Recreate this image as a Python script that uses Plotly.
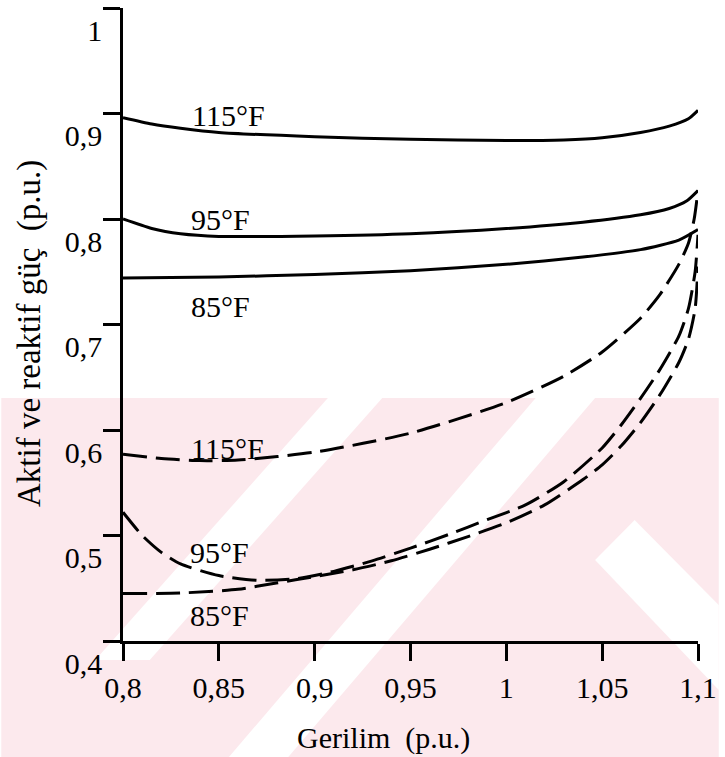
import plotly.graph_objects as go

# ---------------- data ----------------
# Solid curves
x_s115 = [0.80, 0.815, 0.83, 0.85, 0.90, 0.95, 1.00, 1.03, 1.05, 1.07, 1.085, 1.095, 1.10]
y_s115 = [0.896, 0.890, 0.886, 0.882, 0.878, 0.8755, 0.8745, 0.875, 0.877, 0.882, 0.888, 0.895, 0.903]

x_s95 = [0.80, 0.815, 0.83, 0.85, 0.90, 0.95, 1.00, 1.04, 1.07, 1.085, 1.094, 1.10]
y_s95 = [0.800, 0.791, 0.786, 0.7835, 0.784, 0.786, 0.791, 0.797, 0.804, 0.810, 0.817, 0.827]

x_s85 = [0.80, 0.85, 0.90, 0.95, 1.00, 1.04, 1.07, 1.09, 1.10]
y_s85 = [0.744, 0.745, 0.7475, 0.751, 0.757, 0.764, 0.771, 0.780, 0.790]

# Dashed curves
x_d115 = [0.80, 0.82, 0.84, 0.86, 0.90, 0.95, 1.00, 1.03, 1.05, 1.07, 1.08, 1.09, 1.095, 1.098, 1.10]
y_d115 = [0.577, 0.573, 0.571, 0.5715, 0.579, 0.597, 0.626, 0.651, 0.674, 0.706, 0.728, 0.757, 0.777, 0.800, 0.827]

x_d95 = [0.80, 0.81, 0.82, 0.83, 0.85, 0.87, 0.89, 0.91, 0.93, 0.95, 0.97, 0.99, 1.01, 1.03, 1.05, 1.06, 1.07, 1.08, 1.09, 1.095, 1.0985, 1.10]
y_d95 = [0.522, 0.500, 0.484, 0.473, 0.462, 0.4575, 0.459, 0.466, 0.476, 0.488, 0.501, 0.515, 0.529, 0.551, 0.583, 0.605, 0.630, 0.657, 0.689, 0.715, 0.750, 0.785]

x_d85 = [0.80, 0.83, 0.86, 0.88, 0.90, 0.92, 0.94, 0.96, 0.98, 1.00, 1.02, 1.04, 1.05, 1.06, 1.07, 1.08, 1.09, 1.095, 1.0985, 1.10]
y_d85 = [0.445, 0.4455, 0.449, 0.455, 0.461, 0.4675, 0.476, 0.487, 0.499, 0.512, 0.529, 0.553, 0.567, 0.585, 0.607, 0.633, 0.664, 0.686, 0.715, 0.755]

# Curve labels
label_text = ["115°F", "95°F", "85°F", "115°F", "95°F", "85°F"]
label_x = [0.855, 0.851, 0.851, 0.8546, 0.8505, 0.8505]
label_y = [0.898, 0.800, 0.717, 0.582, 0.484, 0.4245]

# Axes ticks
x_ticks = [0.80, 0.85, 0.90, 0.95, 1.00, 1.05, 1.10]
x_ticktext = ["0,8", "0,85", "0,9", "0,95", "1", "1,05", "1,1"]
y_ticks = [0.4, 0.5, 0.6, 0.7, 0.8, 0.9, 1.0]
y_ticktext = ["0,4", "0,5", "0,6", "0,7", "0,8", "0,9", "1"]

x_title = "Gerilim\u00a0\u00a0(p.u.)"
y_title = "Aktif ve reaktif güç\u00a0\u00a0(p.u.)"

# ---------------- figure ----------------
FONT = "Liberation Serif"
W, H = 725, 757
ML, MR, MT, MB = 123, 21, 8, 116

fig = go.Figure()

solid = dict(color="black", width=3, shape="spline", smoothing=0.6)
dashed = dict(color="black", width=3, dash="24px,9px", shape="spline", smoothing=0.6)

for xs, ys in [(x_s115, y_s115), (x_s95, y_s95), (x_s85, y_s85)]:
    fig.add_trace(go.Scatter(x=xs, y=ys, mode="lines", line=solid, showlegend=False, hoverinfo="skip"))
for xs, ys in [(x_d115, y_d115), (x_d95, y_d95), (x_d85, y_d85)]:
    fig.add_trace(go.Scatter(x=xs, y=ys, mode="lines", line=dashed, showlegend=False, hoverinfo="skip"))

annotations = []
for t, lx, ly in zip(label_text, label_x, label_y):
    annotations.append(dict(x=lx, y=ly, xref="x", yref="y", text=t, showarrow=False,
                            font=dict(family=FONT, size=30, color="black"),
                            xanchor="center", yanchor="middle"))

pw = W - ML - MR
ph = H - MT - MB

def px2paper(px, py):
    return (px - ML) / pw, (H - MB - py) / ph

# axis titles as annotations (positioned like the reference)
tx, ty = px2paper(386, 738)
annotations.append(dict(x=tx, y=ty, xref="paper", yref="paper", text=x_title, showarrow=False,
                        font=dict(family=FONT, size=30, color="black"), xanchor="center", yanchor="middle"))
tx, ty = px2paper(28, 333)
annotations.append(dict(x=tx, y=ty, xref="paper", yref="paper", text=y_title, showarrow=False,
                        textangle=-90,
                        font=dict(family=FONT, size=33, color="black"), xanchor="center", yanchor="middle"))

# faint pink watermark in the lower part of the page
PINK = "#fce9ed"
shapes = []
x0, y0 = px2paper(0, 398)
x1, y1 = px2paper(W, H)
shapes.append(dict(type="rect", xref="paper", yref="paper", x0=x0, y0=y1, x1=x1, y1=y0,
                   fillcolor=PINK, line=dict(width=0), layer="below"))

def poly(points):
    p = [px2paper(a, b) for a, b in points]
    path = "M " + " L ".join(f"{a:.4f},{b:.4f}" for a, b in p) + " Z"
    return dict(type="path", xref="paper", yref="paper", path=path,
                fillcolor="white", line=dict(width=0), layer="below")

# white bands (approximate)
shapes.append(poly([(330, 398), (385, 398), (150, 660), (95, 660)]))
shapes.append(poly([(540, 398), (600, 398), (290, 757), (230, 757)]))
shapes.append(poly([(600, 560), (640, 520), (725, 605), (725, 690)]))

fig.update_layout(
    width=W, height=H,
    margin=dict(l=ML, r=MR, t=MT, b=MB, pad=0),
    paper_bgcolor="white",
    plot_bgcolor="rgba(0,0,0,0)",
    showlegend=False,
    annotations=annotations,
    shapes=shapes,
    font=dict(family=FONT, size=30, color="black"),
)

fig.update_xaxes(
    range=[0.8, 1.1], tickvals=x_ticks, ticktext=x_ticktext,
    showgrid=False, zeroline=False, showline=True, linecolor="black", linewidth=2.5,
    ticks="outside", ticklen=17, tickwidth=2.5, tickcolor="black",
    tickfont=dict(family=FONT, size=30, color="black"), ticklabelstandoff=1,
)
fig.update_yaxes(
    range=[0.4, 1.0], tickvals=y_ticks, ticktext=y_ticktext,
    showgrid=False, zeroline=False, showline=True, linecolor="black", linewidth=2.5,
    ticks="outside", ticklen=17, tickwidth=2.5, tickcolor="black",
    ticklabelposition="outside bottom",
    tickfont=dict(family=FONT, size=30, color="black"), ticklabelstandoff=12,
)

fig.write_html("out.html")
